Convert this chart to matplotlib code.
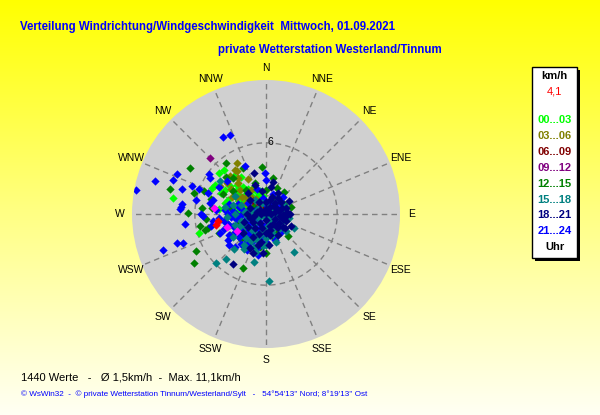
import numpy as np
import matplotlib.pyplot as plt
from matplotlib.colors import LinearSegmentedColormap
from matplotlib.patches import Rectangle

# wind points per time slot: (direction in degrees, speed in km/h)
pts_00_03 = [(279.6, 7.94), (254.4, 5.85), (311.1, 5.23), (316.3, 5.14), (299.6, 4.96), (295.3, 5.07),
             (275.7, 3.96), (300, 3.0), (305, 2.8), (310, 3.2), (315, 3.5), (320, 3.0), (325, 2.6),
             (330, 2.4), (335, 2.2), (295, 2.5), (290, 3.4), (285, 3.6), (300, 1.8), (310, 2.0),
             (318, 1.6), (325, 1.4), (305, 1.2), (340, 1.8), (345, 2.0), (350, 1.5), (295, 4.2),
             (300, 4.0), (308, 3.8), (288, 2.2), (280, 2.8), (300, 2.2), (315, 2.4), (322, 2.0),
             (332, 1.6), (312, 1.0), (330, 1.0), (345, 1.2), (300, 1.4), (285, 1.6), (280, 3.2),
             (276, 2.4), (292, 1.9), (320, 4.2), (326, 3.8), (262, 4.0), (255, 3.3), (305, 0.6),
             (315, 0.8), (325, 0.7)]
pts_03_06 = [(330.8, 4.97), (324.8, 4.55), (316.5, 4.42), (308.5, 4.25), (301.3, 4.55), (326, 4.4),
             (322, 3.9), (318, 3.5), (312, 3.0), (305, 2.5), (300, 2.8), (310, 2.2), (315, 2.0),
             (320, 1.8), (325, 1.5), (330, 1.3), (320, 1.1), (335, 1.0), (310, 1.5), (340, 0.8),
             (300, 1.9), (296, 3.2), (328, 2.4), (332, 3.3), (306, 3.6)]
pts_06_09 = [(330, 1.0), (345, 0.8), (350, 1.3), (0, 0.5), (20, 0.6), (300, 0.7), (250, 1.2), (315, 1.6)]
pts_09_12 = [(314.8, 6.67), (80, 0.3), (60, 0.5), (100, 0.4), (240, 2.0), (200, 1.0), (300, 1.1)]
pts_12_15 = [(301.2, 7.45), (284.4, 8.37), (235.5, 7.35), (242.4, 6.68), (203, 4.9), (180, 3.27),
             (354.8, 4.02), (322.1, 5.5), (276, 4.6), (270.5, 6.56), (286.5, 6.35), (260, 5.67),
             (129.5, 1.24), (109, 1.55), (11.6, 3.08), (149.6, 1.89), (61, 1.74), (275, 5.4),
             (265, 5.09), (256, 5.02), (255, 5.3), (312.5, 4.59), (333, 4.33), (22.6, 2.35),
             (161.8, 2.16), (270, 2.0), (250, 2.5), (230, 2.2), (200, 1.5), (300, 1.2), (90, 1.0),
             (120, 1.4), (150, 1.2), (30, 1.5), (60, 1.0), (0, 2.0), (340, 2.8), (280, 3.0),
             (240, 3.5), (210, 2.6), (295, 4.0), (305, 3.4), (318, 4.1), (290, 5.6), (248, 4.3),
             (225, 3.0), (190, 2.8), (40, 2.4), (75, 2.2), (135, 2.6), (320, 2.6), (285, 4.8)]
pts_15_18 = [(177.2, 5.67), (143.9, 4.0), (117, 2.66), (225.8, 5.9), (221.6, 5.09), (193.7, 4.17),
             (306, 4.8), (222.4, 4.0), (211.9, 3.52), (67, 1.74), (279.7, 3.5), (100, 1.0), (120, 1.5),
             (140, 1.2), (160, 1.8), (180, 2.0), (200, 2.3), (220, 2.6), (240, 2.0), (260, 1.5),
             (280, 1.2), (300, 0.8), (60, 0.8), (80, 1.5), (100, 2.0), (130, 2.2), (170, 1.0),
             (190, 1.4), (210, 1.8), (230, 1.2), (250, 2.8), (270, 2.6), (290, 2.2), (320, 1.5),
             (340, 1.0), (20, 0.6), (40, 1.3), (200, 3.0), (185, 2.7), (215, 3.2), (160, 2.5),
             (235, 3.4), (265, 3.3), (300, 3.0), (285, 2.9), (245, 2.4), (205, 2.0), (195, 3.3),
             (150, 0.6), (240, 0.7), (110, 1.3), (135, 1.7), (155, 1.4), (175, 1.3), (195, 1.8),
             (225, 1.8), (255, 2.2), (275, 1.8), (75, 1.1), (95, 0.7), (180, 2.6), (210, 2.6),
             (135, 0.2), (225, 0.25)]
pts_18_21 = [(213.2, 5.05), (344, 3.58), (199, 3.46), (74, 1.73), (93, 1.47), (127, 1.8), (137, 1.5),
             (96, 1.7), (37, 1.7), (12.3, 2.77), (194.5, 2.7), (169, 1.8), (0, 1.0), (20, 1.5),
             (40, 1.2), (60, 1.0), (80, 0.8), (100, 1.2), (120, 0.9), (140, 1.4), (160, 1.1),
             (180, 1.6), (200, 1.8), (220, 1.5), (240, 1.3), (260, 1.0), (280, 0.8), (300, 0.6),
             (330, 1.2), (350, 2.0), (10, 2.3), (30, 2.0), (50, 1.6), (70, 1.4), (90, 2.0),
             (110, 1.8), (150, 2.0), (190, 2.4), (210, 2.2), (230, 2.5), (250, 2.0), (270, 1.6),
             (290, 1.4), (310, 1.8), (0, 0.4), (180, 0.5), (90, 0.4), (270, 0.4), (205, 3.2),
             (185, 3.3), (175, 2.6), (340, 2.6), (320, 2.3), (60, 2.2), (115, 2.3), (30, 0.7),
             (45, 0.9), (75, 1.1), (105, 1.5), (125, 1.3), (145, 1.0), (165, 1.4), (195, 1.2),
             (215, 0.9), (235, 1.9), (255, 1.4), (125, 2.0), (85, 1.8), (15, 1.2),
             (45, 0.2), (315, 0.25), (0, 0.05)]
pts_21_24 = [(330.7, 7.49), (335.4, 7.31), (280.3, 11.1), (286.6, 9.79), (250.7, 9.19), (251.7, 7.89),
             (250.5, 7.41), (290.1, 8.34), (294.1, 8.2), (286.5, 7.43), (290.6, 6.71), (275, 7.2),
             (273, 7.3), (277, 7.1), (263, 6.9), (290.3, 6.0), (305, 5.85), (303, 5.6), (336.4, 4.43),
             (281.4, 5.98), (270, 5.44), (268, 5.3), (235.4, 3.87), (190.6, 3.53), (0, 2.87),
             (359, 3.44), (223.5, 3.8), (208, 3.45), (280.8, 4.8), (289.7, 5.17), (285, 4.6),
             (262, 4.5), (258, 4.7), (248, 4.2), (230, 4.1), (300, 4.6), (310, 4.3),
             (270, 1.0), (260, 1.5), (250, 2.0), (240, 2.5), (230, 3.0), (220, 2.2), (210, 1.8),
             (200, 1.2), (190, 2.0), (180, 1.5), (280, 2.0), (290, 2.5), (300, 1.8),
             (270, 2.5), (265, 3.0), (255, 3.3), (245, 1.2), (235, 1.6), (225, 0.8),
             (215, 2.8), (205, 2.5), (195, 3.0), (275, 3.5), (285, 3.2),
             (0, 0.8), (30, 1.0), (60, 1.3), (90, 1.2), (120, 1.0), (150, 0.8),
             (170, 1.8), (160, 2.3), (140, 2.0), (100, 0.6), (350, 1.4), (340, 2.2), (20, 1.8),
             (45, 2.0), (250, 0.5), (230, 1.0), (260, 2.6), (240, 3.6), (220, 3.3), (280, 1.3),
             (290, 0.9), (265, 4.0), (275, 4.2), (250, 3.0), (210, 3.0), (200, 2.0), (255, 1.8),
             (245, 2.2), (235, 2.0), (225, 2.6), (215, 2.0), (265, 2.2), (275, 2.8), (285, 2.4),
             (260, 3.6), (270, 3.2), (250, 3.8), (240, 3.0), (230, 2.6), (220, 1.5), (205, 1.5),
             (190, 1.0), (180, 2.4), (265, 1.2), (280, 0.6), (240, 1.8)]
pts_magenta = [(260, 4.23), (276.2, 4.42), (240.4, 2.85), (252, 3.5)]
pts_current = [(262, 4.1), (257, 4.3)]

slot_labels = ['00...03', '03...06', '06...09', '09...12', '12...15', '15...18', '18...21', '21...24']
slot_colors = ['#00ff00', '#808000', '#800000', '#800080', '#008000', '#008080', '#000080', '#0000ff']
directions = ['N', 'NNE', 'NE', 'ENE', 'E', 'ESE', 'SE', 'SSE',
              'S', 'SSW', 'SW', 'WSW', 'W', 'WNW', 'NW', 'NNW']

n_values = 1440
mean_speed = '1,5'
max_speed = '11,1'
current = '4,1'
r_max = 11.3

fig = plt.figure(figsize=(6, 4.15), dpi=100)

# yellow background gradient
bg = fig.add_axes([0, 0, 1, 1])
cmap = LinearSegmentedColormap.from_list('bg', ['#ffff00', '#ffff80', '#fffff4'])
bg.imshow(np.linspace(0, 1, 256).reshape(-1, 1), aspect='auto', cmap=cmap, extent=[0, 1, 0, 1])
bg.set_axis_off()

ax = fig.add_axes([0.22, 0.1614, 0.4467, 0.6458], projection='polar')
ax.set_facecolor('#d0d0d0')
ax.set_theta_zero_location('N')
ax.set_theta_direction(-1)
ax.set_ylim(0, r_max)
ax.grid(False)
ax.set_xticks([])
ax.set_yticks([])
ax.spines['polar'].set_visible(False)

grid_kw = dict(color='#808080', lw=1, ls=(0, (4, 3)), zorder=1)
for i in range(16):
    th = np.radians(i * 22.5)
    ax.plot([th, th], [1.55, r_max], **grid_kw)
circ = np.linspace(0, 2 * np.pi, 361)
ax.plot(circ, np.full_like(circ, 6.0), **grid_kw)
ax.plot(circ, np.full_like(circ, 1.55), **grid_kw)

for i, name in enumerate(directions):
    ax.text(np.radians(i * 22.5), 12.3, name, ha='center', va='center',
            fontsize=7.5, family='Liberation Sans')
ax.text(np.radians(3.5), 6.05, '6', ha='center', va='center', fontsize=7.5,
        family='Liberation Sans', zorder=5)

groups = [pts_00_03, pts_03_06, pts_06_09, pts_09_12, pts_12_15, pts_21_24, pts_15_18, pts_18_21,
          pts_magenta, pts_current]
colors = ['#00ff00', '#808000', '#800000', '#800080', '#008000', '#0000ff', '#008080', '#000080',
          '#ff00ff', '#ff0000']
for pts, col in zip(groups, colors):
    a = np.array(pts)
    ax.scatter(np.radians(a[:, 0]), a[:, 1], marker='D', s=18, color=col, linewidths=0, zorder=3)

# titles
fig.text(20 / 600, 1 - 27 / 415, 'Verteilung Windrichtung/Windgeschwindigkeit  Mittwoch, 01.09.2021',
         color='#0000ff', fontsize=8.3, weight='bold', family='Liberation Sans', va='center')
fig.text(218 / 600, 1 - 50 / 415, 'private Wetterstation Westerland/Tinnum',
         color='#0000ff', fontsize=8.3, weight='bold', family='Liberation Sans', va='center')

# bottom lines
fig.text(21 / 600, 1 - 377 / 415,
         f'{n_values} Werte   -   Ø {mean_speed}km/h  -  Max. {max_speed}km/h',
         color='black', fontsize=8, family='Liberation Sans', va='center')
fig.text(21 / 600, 1 - 394 / 415,
         "© WsWin32  -  © private Wetterstation Tinnum/Westerland/Sylt   -   54°54'13'' Nord; 8°19'13'' Ost",
         color='#0000ff', fontsize=5.9, family='Liberation Sans', va='center')

# legend box with shadow
x0, y0, w, h = 532 / 600, 1 - 258 / 415, 45 / 600, 191 / 415
fig.patches.append(Rectangle((x0 + 3 / 600, y0 - 3 / 415), w, h, transform=fig.transFigure,
                             facecolor='black', edgecolor='none'))
fig.patches.append(Rectangle((x0, y0), w, h, transform=fig.transFigure,
                             facecolor='white', edgecolor='black', lw=1))
xc = x0 + w / 2
fig.text(xc, 1 - 76 / 415, 'km/h', ha='center', va='center', fontsize=8, weight='bold',
         family='Liberation Sans')
fig.text(xc, 1 - 92 / 415, current, ha='center', va='center', fontsize=8, color='#ff0000',
         family='Liberation Sans')
for i, (lbl, col) in enumerate(zip(slot_labels, slot_colors)):
    fig.text(xc, 1 - (120 + i * 15.9) / 415, lbl, ha='center', va='center', fontsize=8,
             weight='bold', color=col, family='Liberation Sans')
fig.text(xc, 1 - 247 / 415, 'Uhr', ha='center', va='center', fontsize=8, weight='bold',
         family='Liberation Sans')

fig.savefig('out.png', dpi=100)
